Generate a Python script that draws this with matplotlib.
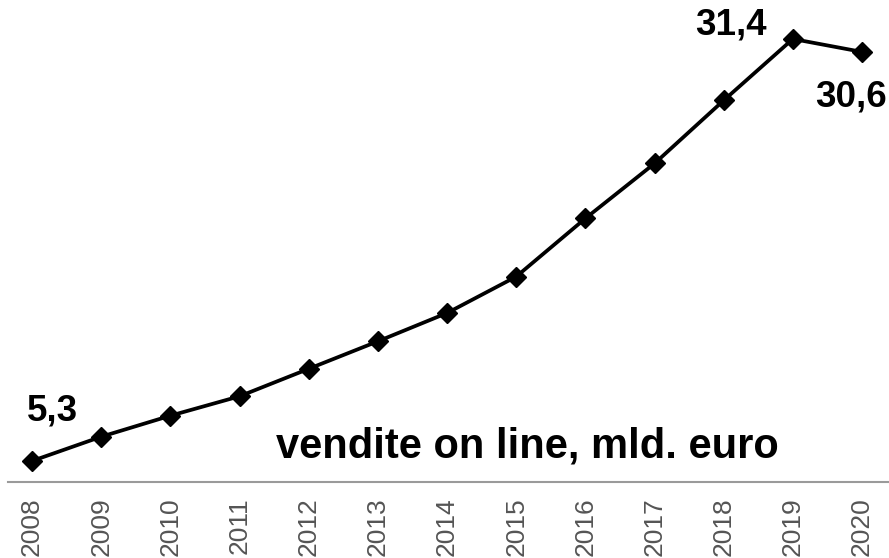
import matplotlib
matplotlib.use("Agg")
import matplotlib.pyplot as plt

years = [2008, 2009, 2010, 2011, 2012, 2013, 2014, 2015, 2016, 2017, 2018, 2019, 2020]
values = [5.3, 6.8, 8.1, 9.3, 11.0, 12.7, 14.45, 16.7, 20.3, 23.7, 27.6, 31.4, 30.6]
tick_labels = [str(y) for y in years]
title = "vendite on line, mld. euro"

W, H = 889, 558
fig = plt.figure(figsize=(W / 100, H / 100), dpi=100)
ax = fig.add_axes([8 / W, (H - 482) / H, (W - 8) / W, 482 / H])

ax.plot(years, values, color="black", lw=2.7, marker="D", ms=10.5, mfc="black", mec="black")

ax.set_xlim(2007.653, 2020.39)
ax.set_ylim(4.0, 33.81)

for s in ["top", "right", "left"]:
    ax.spines[s].set_visible(False)
ax.spines["bottom"].set_color("#9a9a9a")
ax.spines["bottom"].set_linewidth(1.5)
ax.set_yticks([])
ax.set_xticks(years)
ax.set_xticklabels(tick_labels, rotation=90, fontsize=19, color="#555555",
                   family="Liberation Sans", va="top")
ax.tick_params(axis="x", length=0, pad=11)

bold = dict(fontsize=26.5, fontweight="bold", family="Liberation Sans",
            ha="center", va="center", textcoords="offset points")
ax.annotate("5,3", xy=(years[0], values[0]), xytext=(14.4, 36), **bold)
ax.annotate("31,4", xy=(years[11], values[11]), xytext=(-44.6, 10), **bold)
ax.annotate("30,6", xy=(years[12], values[12]), xytext=(-8, -32.4), **bold)

fig.text(527 / W, 1 - 446 / H, title, fontsize=30, fontweight="bold",
         family="Liberation Sans", ha="center", va="center")

fig.savefig("out.png", dpi=100)
